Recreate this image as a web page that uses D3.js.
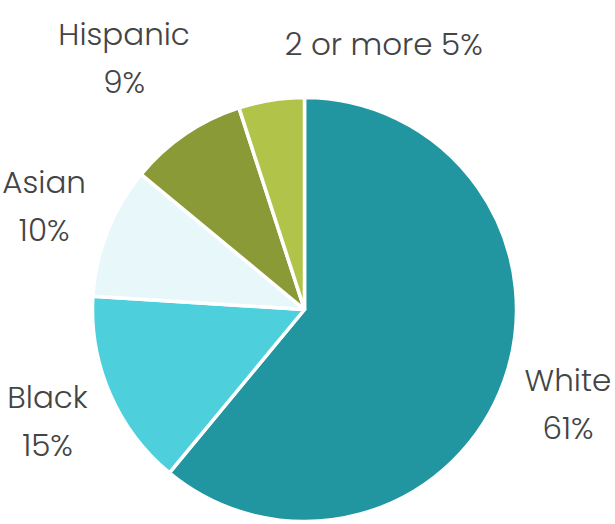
<!DOCTYPE html>
<html>
<head>
<meta charset="utf-8">
<script src="https://cdn.jsdelivr.net/npm/d3@7"></script>
<style>
  html, body { margin: 0; padding: 0; background: #fff; }
  svg { display: block; }
  text { font-family: "Poppins", "Open Sans", sans-serif; font-weight: 300; fill: #444; }
</style>
</head>
<body>
<svg id="chart" width="615" height="524"></svg>
<script>
// Share of students by race / ethnicity
const categories = ["White", "Black", "Asian", "Hispanic", "2 or more"];
const shares = [61, 15, 10, 9, 5];
const colors = ["#2196a0", "#4dd0dc", "#e8f7fa", "#8a9a36", "#b1c449"];

const width = 615, height = 524;
const cx = 304.5, cy = 309.5, radius = 212;

const svg = d3.select("#chart");
const g = svg.append("g").attr("transform", `translate(${cx},${cy})`);

const data = categories.map((c, i) => ({ name: c, value: shares[i], color: colors[i] }));

const pie = d3.pie().sort(null).value(d => d.value);
const arc = d3.arc().innerRadius(0).outerRadius(radius);
const arcs = pie(data);

g.selectAll("path.slice")
  .data(arcs)
  .join("path")
  .attr("class", "slice")
  .attr("d", arc)
  .attr("fill", d => d.data.color)
  .attr("stroke", "#fff")
  .attr("stroke-width", 3.5)
  .attr("stroke-linejoin", "round");

// Labels sit on a ring outside the pie; the two small top slices are nudged apart
const labelArc = d3.arc().innerRadius(280).outerRadius(280);
const nudge = {
  "Hispanic": [-23, -20],
  "2 or more": [123, 11]
};
const fontSize = 31, lineGap = 48;

arcs.forEach(a => {
  const [x0, y0] = labelArc.centroid(a);
  const [dx, dy] = nudge[a.data.name] || [0, 0];
  const x = x0 + dx, y = y0 + dy;
  const lines = a.data.name === "2 or more"
    ? [`${a.data.name} ${a.data.value}%`]
    : [a.data.name, `${a.data.value}%`];
  const t = g.append("text")
    .attr("text-anchor", "middle")
    .attr("font-size", fontSize);
  lines.forEach((l, i) => {
    t.append("tspan")
      .attr("x", x)
      .attr("y", y + (i - (lines.length - 1) / 2) * lineGap)
      .attr("dy", "0.35em")
      .text(l);
  });
});
</script>
</body>
</html>
